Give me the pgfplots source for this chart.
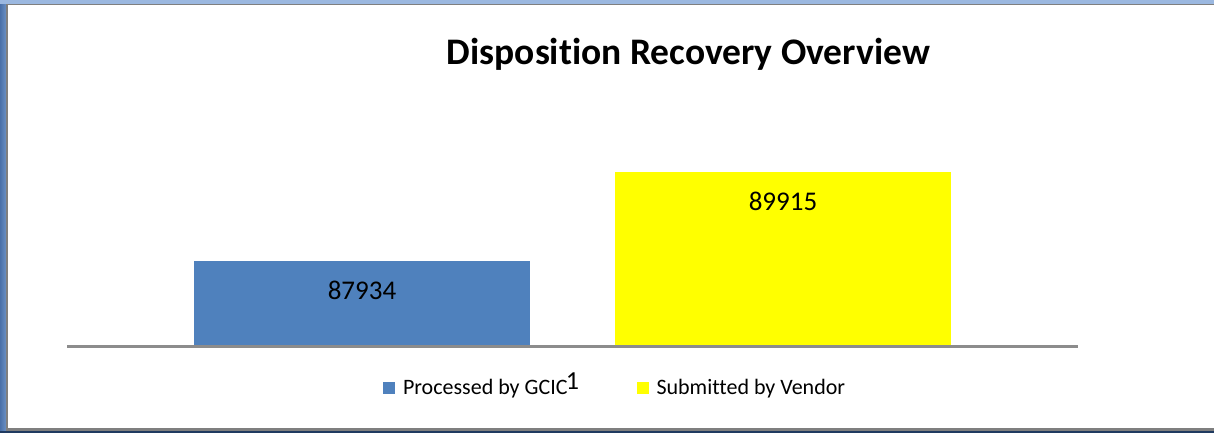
\documentclass[border=0pt]{standalone}
\usepackage{pgfplots}
\pgfplotsset{compat=1.18}
\usepackage{fontspec}
\setmainfont{Carlito}[Ligatures={NoCommon}]
\definecolor{barblue}{HTML}{4F81BD}
\definecolor{baryellow}{HTML}{FFFF00}
\definecolor{axgray}{HTML}{8C8C8C}
\definecolor{frameblue}{HTML}{6A90C4}
\definecolor{framedark}{HTML}{4A70A8}
\definecolor{framelight}{HTML}{9BB8E0}
\definecolor{framenavy}{HTML}{1F3A60}
\definecolor{framegray}{HTML}{7F7F7F}
\begin{document}
\begin{tikzpicture}[x=1pt,y=1pt]
\path[use as bounding box] (0,0) rectangle (1214,433);
\fill[white] (0,0) rectangle (1214,433);
\fill[left color=framedark, right color=frameblue] (0,0) rectangle (6,433);
\fill[framelight] (0,429.3) rectangle (1214,433);
\fill[framegray] (6,427.5) rectangle (1214,429.3);
\fill[framegray] (6,2.3) rectangle (7.8,429.3);
\fill[framegray] (6,2.3) rectangle (1214,5);
\fill[framenavy] (0,0) rectangle (1214,2.3);
\begin{axis}[
  at={(67pt,86.5pt)}, anchor=south west,
  scale only axis, width=1011pt, height=200pt,
  xmin=0.5, xmax=1.5, ymin=86000, ymax=90500,
  ybar, bar width=336pt,
  axis on top,
  axis x line*=bottom, axis y line=none,
  x axis line style={draw=axgray, line width=2.6pt},
  xtick={1}, xticklabels={1}, major tick length=0pt,
  xticklabel style={anchor=base, yshift=-43.5pt, inner sep=0pt, font=\fontsize{26}{28}\selectfont},
  nodes near coords={\pgfmathprintnumber[1000 sep={},assume math mode=true]{\pgfplotspointmeta}},
  every node near coord/.append style={anchor=base, yshift=-38.5pt, font=\fontsize{27}{30}\selectfont, text=black, inner sep=0pt},
  title={Disposition Recovery Overview},
  title style={at={(0.6147,1.3775)}, anchor=base, font=\fontsize{37.5}{40}\selectfont\bfseries, inner sep=0pt},
  legend columns=2,
  legend style={at={(0.3126,-0.2075)}, anchor=west, draw=none, fill=none, inner sep=0pt, outer sep=0pt,
    font=\fontsize{22}{24}\selectfont, nodes={inner sep=0pt},
    /tikz/every odd column/.append style={column sep=8pt},
    /tikz/every even column/.append style={column sep=69pt}},
  legend image code/.code={\fill[#1] (0pt,-6pt) rectangle (12pt,6pt);},
]
\addplot[fill=barblue, draw=none, bar shift=-210.5pt] coordinates {(1,87934)};
\addplot[fill=baryellow, draw=none, bar shift=210.5pt] coordinates {(1,89915)};
\legend{Processed by GCIC, Submitted by Vendor}
\end{axis}
\end{tikzpicture}
\end{document}
